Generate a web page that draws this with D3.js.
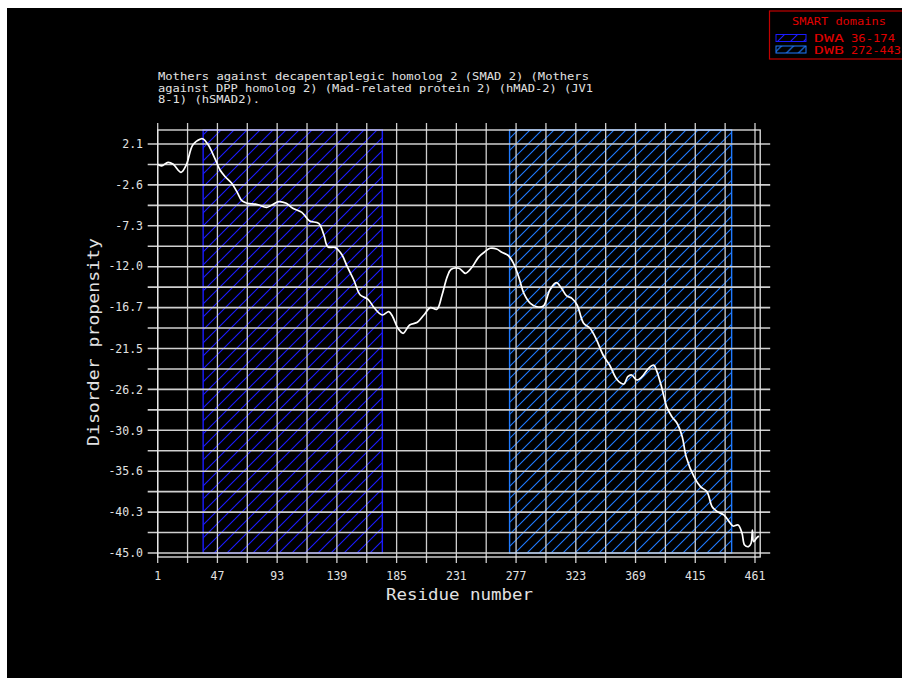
<!DOCTYPE html>
<head>
    <meta charset="utf-8">
    <style>
        body { margin: 0; background: #fff; }
        svg { display: block; }
        .lbl { font-family: 'DejaVu Sans Mono', monospace; fill: #e2e2e2; }
        .grid line { stroke: #cfcfcf; }
        .legend text { font-family: 'DejaVu Sans Mono', monospace; fill: #e00000; }
    </style>
</head>
<body>
    <div id="chart"></div>
    <script src="https://d3js.org/d3.v7.min.js"></script>
    <script>
        // disorder profile
        var residues = [1, 4, 9, 13, 19, 23, 28, 34, 36, 40, 45, 49, 53, 58, 62, 66, 70, 77, 85, 89,
            94, 100, 105, 112, 118, 125, 129, 132, 138, 143, 147, 152, 157, 163, 168, 174, 179, 182, 186, 190,
            195, 201, 206, 211, 216, 220, 224, 227, 233, 238, 243, 248, 253, 257, 262, 266, 271, 275, 279, 283,
            288, 293, 298, 303, 308, 312, 316, 320, 324, 329, 334, 339, 344, 349, 355, 360, 363, 366, 370, 374,
            379, 383, 385, 389, 393, 397, 401, 405, 408, 414, 419, 424, 428, 432, 437, 442, 444, 448, 451, 453,
            456, 458, 459, 460, 462, 464];
        var propensity = [-0.24, -0.43, -0.01, -0.24, -1.16, -0.32, 1.98, 2.68, 2.68, 1.98, 0.45, -0.89, -1.67, -2.43, -3.39, -4.46, -4.73, -4.84, -5.19, -4.92,
            -4.54, -4.73, -5.30, -5.77, -6.77, -7.03, -8.38, -9.73, -9.84, -10.68, -12.03, -13.56, -15.29, -15.78, -16.82, -17.59, -17.21, -17.79, -19.12, -19.70,
            -18.74, -18.43, -17.59, -16.75, -16.94, -15.29, -13.18, -12.33, -12.21, -12.79, -12.10, -10.95, -10.30, -9.91, -9.99, -10.37, -10.74, -11.64, -13.18, -15.09,
            -16.24, -16.64, -16.56, -14.71, -13.87, -14.52, -15.40, -15.67, -16.44, -18.55, -19.12, -20.47, -22.20, -23.35, -25.08, -25.54, -24.70, -24.50, -25.08, -24.70,
            -23.73, -23.35, -23.92, -25.85, -28.15, -29.30, -30.06, -31.64, -33.91, -36.21, -37.36, -37.94, -39.67, -40.24, -40.62, -41.58, -41.89, -41.77, -42.73, -44.08,
            -44.27, -43.88, -42.35, -43.70, -43.31, -43.04];

        var xTickLabels = ["1", "47", "93", "139", "185", "231", "277", "323", "369", "415", "461"];
        var yTickLabels = ["2.1", "-2.6", "-7.3", "-12.0", "-16.7", "-21.5", "-26.2", "-30.9", "-35.6", "-40.3", "-45.0"];

        var domainNames = ["DWA", "DWB"];
        var domainStarts = [36, 272];
        var domainEnds = [174, 443];
        var domainColors = ["#1a1aff", "#1f7aff"];

        var titleLines = [
            "Mothers against decapentaplegic homolog 2 (SMAD 2) (Mothers",
            "against DPP homolog 2) (Mad-related protein 2) (hMAD-2) (JV1",
            "8-1) (hSMAD2)."
        ];
        var titleWidths = [431, 435, 102];

        var W = 902, H = 682;

        var svg = d3.select("#chart").append("svg")
            .attr("width", W)
            .attr("height", H);

        svg.append("rect")
            .attr("x", 7).attr("y", 8)
            .attr("width", W - 7).attr("height", 670)
            .attr("fill", "#000");

        var x = d3.scaleLinear().domain([1, 461]).range([157.7, 755]);
        var y = d3.scaleLinear().domain([2.1, -45.0]).range([144, 553]);

        var frameTop = y(2.1) - 14, frameBottom = y(-45.0) + 4;
        var frameLeft = x(1), frameRight = x(465);

        // hatch patterns
        var defs = svg.append("defs");
        var hatchSize = [13, 12];
        domainNames.forEach(function(name, i) {
            var s = hatchSize[i];
            defs.append("pattern")
                .attr("id", "hatch" + i)
                .attr("patternUnits", "userSpaceOnUse")
                .attr("width", s).attr("height", s)
                .append("path")
                .attr("d", "M0," + s + " L" + s + ",0 M-2,2 L2,-2 M" + (s - 2) + "," + (s + 2) + " L" + (s + 2) + "," + (s - 2))
                .attr("stroke", domainColors[i])
                .attr("stroke-width", 1.1);
        });

        svg.append("g").selectAll("rect")
            .data(domainNames)
            .enter().append("rect")
            .attr("x", function(d, i) { return x(domainStarts[i]); })
            .attr("y", frameTop)
            .attr("width", function(d, i) { return x(domainEnds[i]) - x(domainStarts[i]); })
            .attr("height", y(-45.0) - frameTop)
            .attr("fill", function(d, i) { return "url(#hatch" + i + ")"; })
            .attr("stroke", function(d, i) { return domainColors[i]; })
            .attr("stroke-width", 1.4);

        // gridlines
        var yStep = (2.1 + 45.0) / 20;
        var hGrid = d3.range(21).map(function(k) { return 2.1 - k * yStep; });
        var vGrid = d3.range(21).map(function(k) { return 1 + k * 23; });

        var grid = svg.append("g").attr("class", "grid");
        grid.selectAll(".h").data(hGrid).enter().append("line")
            .attr("x1", frameLeft - 10).attr("x2", frameRight + 10)
            .attr("y1", function(d) { return y(d); })
            .attr("y2", function(d) { return y(d); })
            .attr("stroke-width", 1.6);
        grid.selectAll(".v").data(vGrid).enter().append("line")
            .attr("y1", frameTop - 7).attr("y2", frameBottom + 6)
            .attr("x1", function(d) { return x(d); })
            .attr("x2", function(d) { return x(d); })
            .attr("stroke-width", 1.3);

        svg.append("rect")
            .attr("x", frameLeft).attr("y", frameTop)
            .attr("width", frameRight - frameLeft)
            .attr("height", frameBottom - frameTop)
            .attr("fill", "none")
            .attr("stroke", "#e8e8e8")
            .attr("stroke-width", 1.3);

        // curve
        var line = d3.line()
            .x(function(d, i) { return x(residues[i]); })
            .y(function(d) { return y(d); })
            .curve(d3.curveCatmullRom);

        svg.append("path")
            .datum(propensity)
            .attr("d", line)
            .attr("fill", "none")
            .attr("stroke", "#fff")
            .attr("stroke-width", 1.7);

        // tick labels
        svg.append("g").selectAll("text")
            .data(yTickLabels)
            .enter().append("text")
            .attr("class", "lbl")
            .attr("x", 143)
            .attr("y", function(d) { return y(+d); })
            .attr("dy", "0.35em")
            .attr("text-anchor", "end")
            .attr("font-size", "11.5px")
            .text(function(d) { return d; });

        svg.append("g").selectAll("text")
            .data(xTickLabels)
            .enter().append("text")
            .attr("class", "lbl")
            .attr("x", function(d) { return x(+d); })
            .attr("y", 580)
            .attr("text-anchor", "middle")
            .attr("font-size", "11.5px")
            .text(function(d) { return d; });

        // axis titles
        svg.append("text")
            .attr("class", "lbl")
            .attr("x", 386).attr("y", 600)
            .attr("font-size", "15px")
            .attr("textLength", 147)
            .attr("lengthAdjust", "spacingAndGlyphs")
            .text("Residue number");

        svg.append("text")
            .attr("class", "lbl")
            .attr("transform", "translate(99,446) rotate(-90)")
            .attr("font-size", "15px")
            .attr("textLength", 208)
            .attr("lengthAdjust", "spacingAndGlyphs")
            .text("Disorder propensity");

        // title
        svg.append("g").selectAll("text")
            .data(titleLines)
            .enter().append("text")
            .attr("class", "lbl")
            .attr("x", 158)
            .attr("y", function(d, i) { return 80 + i * 11.5; })
            .attr("font-size", "10.5px")
            .attr("textLength", function(d, i) { return titleWidths[i]; })
            .attr("lengthAdjust", "spacingAndGlyphs")
            .attr("fill", "#f0f0f0")
            .text(function(d) { return d; });

        // legend
        var legend = svg.append("g").attr("class", "legend");
        legend.append("rect")
            .attr("x", 769.5).attr("y", 11)
            .attr("width", 150).attr("height", 48)
            .attr("fill", "none")
            .attr("stroke", "#c00000")
            .attr("stroke-width", 1.2);
        legend.append("text")
            .attr("x", 792).attr("y", 25)
            .attr("font-size", "10.5px")
            .attr("textLength", 94)
            .attr("lengthAdjust", "spacingAndGlyphs")
            .text("SMART domains");

        var rangeWidths = [44, 50];
        var items = legend.selectAll(".item")
            .data(domainNames)
            .enter().append("g")
            .attr("transform", function(d, i) { return "translate(0," + (i * 11.5) + ")"; });
        items.append("rect")
            .attr("x", 776).attr("y", 34.5)
            .attr("width", 30).attr("height", 7)
            .attr("fill", function(d, i) { return "url(#hatch" + i + ")"; })
            .attr("stroke", function(d, i) { return domainColors[i]; })
            .attr("stroke-width", 1);
        items.append("text")
            .attr("x", 814).attr("y", 42)
            .attr("font-size", "10.5px")
            .attr("textLength", 30)
            .attr("lengthAdjust", "spacingAndGlyphs")
            .text(function(d) { return d; });
        items.append("text")
            .attr("x", 851).attr("y", 42)
            .attr("font-size", "10.5px")
            .attr("textLength", function(d, i) { return rangeWidths[i]; })
            .attr("lengthAdjust", "spacingAndGlyphs")
            .text(function(d, i) { return domainStarts[i] + "-" + domainEnds[i]; });
    </script>
</body>
